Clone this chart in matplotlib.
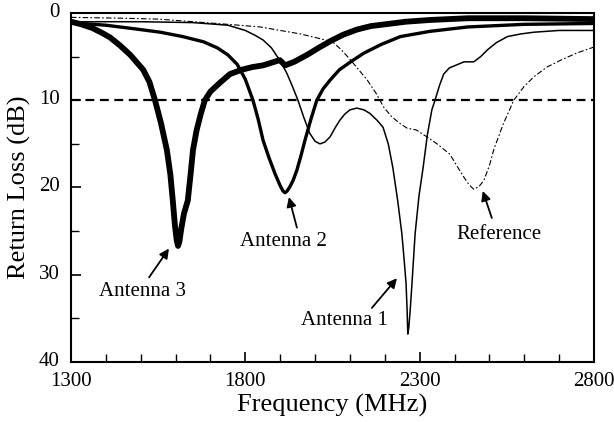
import matplotlib.pyplot as plt
import matplotlib.transforms as mtransforms
from matplotlib.ticker import MultipleLocator

plt.rcParams["font.family"] = ["Liberation Serif", "DejaVu Serif"]

# Return loss curves (MHz, dB)
freq_ant3 = [1300, 1330, 1360, 1390, 1412, 1440, 1470, 1507, 1525, 1541, 1558, 1575,
             1585, 1592, 1598, 1603, 1607, 1611, 1616, 1624, 1635, 1643, 1650, 1660,
             1672, 1684, 1700, 1727, 1756, 1790, 1820, 1851, 1875, 1899, 1914, 1940,
             1977, 2010, 2045, 2080, 2120, 2160, 2200, 2260, 2330, 2438, 2600, 2800]
loss_ant3 = [1.0, 1.3, 1.7, 2.3, 2.8, 3.7, 4.8, 6.5, 7.9, 10.0, 12.6, 15.7,
             18.5, 21.5, 24.3, 26.0, 26.7, 26.2, 24.8, 23.0, 21.5, 18.5, 15.7, 13.5,
             11.6, 10.0, 9.0, 8.0, 7.0, 6.5, 6.2, 6.0, 5.7, 5.4, 6.0, 5.6,
             4.8, 4.0, 3.2, 2.5, 1.9, 1.5, 1.3, 1.0, 0.8, 0.6, 0.6, 0.7]

freq_ant2 = [1300, 1400, 1480, 1556, 1620, 1680, 1720, 1750, 1777, 1800, 1822, 1837,
             1851, 1868, 1885, 1900, 1908, 1914, 1920, 1928, 1937, 1948, 1960, 1971,
             1988, 2005, 2023, 2043, 2070, 2102, 2140, 2190, 2245, 2330, 2438, 2600, 2800]
loss_ant2 = [1.1, 1.4, 1.8, 2.2, 2.7, 3.3, 4.0, 4.8, 5.9, 7.6, 10.0, 12.2,
             14.6, 16.6, 18.4, 19.8, 20.4, 20.6, 20.4, 19.9, 19.2, 18.0, 16.3, 14.6,
             12.2, 10.0, 8.7, 7.7, 6.5, 5.6, 4.6, 3.6, 2.7, 2.1, 1.6, 1.3, 1.2]

freq_ant1 = [1300, 1500, 1650, 1750, 1800, 1830, 1851, 1875, 1900, 1919, 1935, 1951,
             1968, 1985, 2000, 2014, 2028, 2043, 2057, 2071, 2085, 2100, 2120, 2140,
             2157, 2178, 2195, 2210, 2223, 2237, 2249, 2256, 2261, 2264, 2266, 2269,
             2273, 2278, 2287, 2298, 2310, 2322, 2335, 2344, 2357, 2369, 2385, 2403,
             2427, 2455, 2475, 2495, 2520, 2552, 2590, 2628, 2700, 2800]
loss_ant1 = [1.0, 1.0, 1.1, 1.4, 2.0, 2.6, 3.1, 4.0, 5.5, 6.9, 8.4, 10.0,
             12.0, 13.8, 14.7, 15.0, 14.8, 14.2, 13.2, 12.3, 11.6, 11.1, 10.9, 11.1,
             11.5, 12.3, 13.1, 15.0, 17.7, 21.5, 25.3, 28.5, 31.0, 34.0, 36.8, 36.0,
             34.0, 31.0, 25.3, 21.0, 17.7, 14.0, 11.1, 10.0, 8.3, 7.0, 6.3, 6.0,
             5.6, 5.6, 5.0, 4.2, 3.4, 2.7, 2.4, 2.2, 2.0, 2.0]

freq_ref = [1300, 1450, 1550, 1650, 1750, 1843, 1900, 1958, 2000, 2050, 2075, 2100,
            2125, 2150, 2175, 2197, 2220, 2245, 2264, 2290, 2321, 2350, 2387, 2405,
            2425, 2442, 2455, 2470, 2484, 2500, 2513, 2540, 2570, 2600, 2628, 2665,
            2705, 2750, 2800]
loss_ref = [0.5, 0.6, 0.7, 1.0, 1.3, 1.6, 2.0, 2.4, 2.8, 3.3, 4.2, 5.3,
            6.5, 7.7, 9.2, 10.8, 11.9, 12.7, 13.2, 13.4, 14.2, 15.0, 16.2, 17.4,
            18.7, 19.7, 20.2, 19.9, 19.2, 17.5, 15.6, 12.7, 10.0, 8.4, 7.3, 6.2,
            5.4, 4.6, 3.9]

threshold = 10

# label, text centre, arrow tail, arrow tip (data coordinates)
labels = ["Antenna 3", "Antenna 2", "Antenna 1", "Reference"]
text_pos = [(1506, 31.9), (1908, 26.2), (2083, 35.3), (2528, 25.4)]
arrow_tail = [(1524, 30.3), (1948, 24.6), (2163, 33.8), (2507, 23.5)]
arrow_tip = [(1581, 27.0), (1925, 21.1), (2235, 30.4), (2481, 20.4)]

fig = plt.figure(figsize=(6.14, 4.22), dpi=100)
ax = fig.add_axes([0.1156, 0.1422, 0.8518, 0.8270])

ax.plot(freq_ant3, loss_ant3, color="black", lw=4.2, solid_joinstyle="round")
ax.plot(freq_ant2, loss_ant2, color="black", lw=2.4, solid_joinstyle="round")
ax.plot(freq_ant1, loss_ant1, color="black", lw=1.1)
ax.plot(freq_ref, loss_ref, color="black", lw=0.8, linestyle=(0, (5, 2, 1.5, 2)))
ax.axhline(threshold, color="black", lw=1.6, linestyle=(0, (4, 2.5)))

for label, txt, tail, tip in zip(labels, text_pos, arrow_tail, arrow_tip):
    ax.text(txt[0], txt[1], label, ha="center", va="center", fontsize=15)
    ax.annotate("", xy=tip, xytext=tail,
                arrowprops=dict(arrowstyle="-|>", color="black", lw=1.3,
                                shrinkA=0, shrinkB=0, mutation_scale=14))

ax.set_xlim(1300, 2800)
ax.set_ylim(40, 0)
ax.set_xticks([1300, 1800, 2300, 2800])
ax.xaxis.set_minor_locator(MultipleLocator(100))
ax.yaxis.set_major_locator(MultipleLocator(10))
ax.yaxis.set_minor_locator(MultipleLocator(5))
ax.tick_params(which="both", direction="in", labelsize=15)
ax.tick_params(which="major", length=7, width=1.2)
ax.tick_params(which="minor", length=6, width=1.0)
ax.tick_params(axis="x", pad=7)
ax.tick_params(axis="y", pad=8)
for spine in ax.spines.values():
    spine.set_linewidth(1.5)

# y tick labels sit a little above their ticks in the reference
shift_up = mtransforms.ScaledTranslation(0, 3 / 100, fig.dpi_scale_trans)
for lbl in ax.get_yticklabels():
    lbl.set_transform(lbl.get_transform() + shift_up)

ax.set_xlabel("Frequency (MHz)", fontsize=19, labelpad=2)
ax.set_ylabel("Return Loss (dB)", fontsize=19, labelpad=6)

fig.savefig("out.png", dpi=100)
plt.close(fig)
